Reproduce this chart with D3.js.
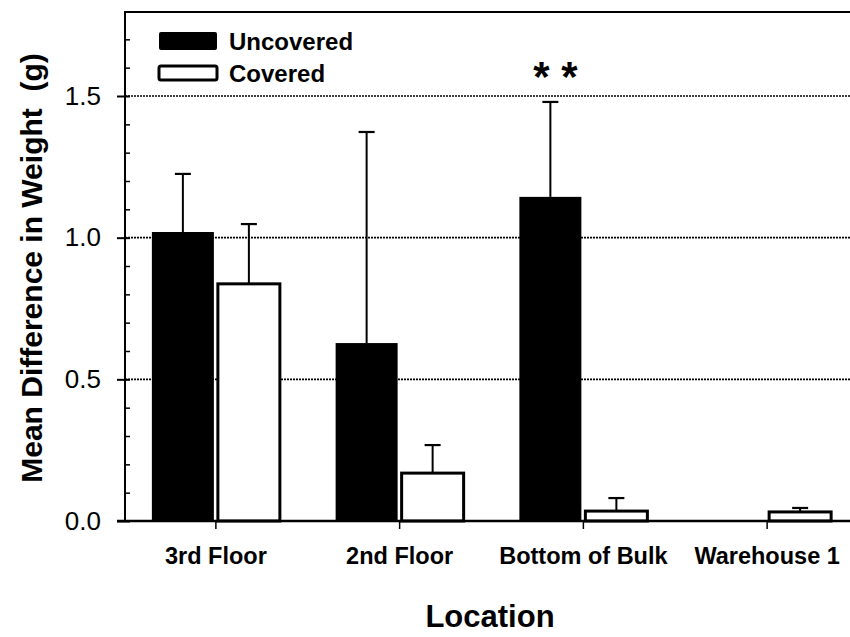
<!DOCTYPE html>
<html>
<head>
<meta charset="utf-8">
<script src="https://cdn.jsdelivr.net/npm/d3@7"></script>
<style>
  body { margin: 0; background: #fff; }
  text { font-family: "Liberation Sans", Arial, sans-serif; fill: #000; }
</style>
</head>
<body>
<div id="graph"></div>
<script>

// data
var locations = ["3rd Floor", "2nd Floor", "Bottom of Bulk", "Warehouse 1"];
var seriesNames = ["Uncovered", "Covered"];
var uncovered = [1.02, 0.628, 1.144, 0];
var uncoveredErr = [0.205, 0.745, 0.335, 0];
var covered = [0.837, 0.169, 0.035, 0.032];
var coveredErr = [0.211, 0.099, 0.046, 0.014];
var yTicks = [0.0, 0.5, 1.0, 1.5];
var gridValues = [0.5, 1.0, 1.5];

var width = 850, height = 637;

var svg = d3.select("#graph")
  .append("svg")
    .attr("width", width)
    .attr("height", height);

// scales
var x = d3.scaleBand()
  .domain(locations)
  .range([124, 859]);

var y = d3.scaleLinear()
  .domain([0, 1.8])
  .range([521, 11]);

var barW = 62, gap = 4;

// dotted grid lines
svg.append("g")
  .selectAll("line")
  .data(gridValues)
  .enter()
  .append("line")
    .attr("x1", 125)
    .attr("x2", width)
    .attr("y1", function(d) { return y(d); })
    .attr("y2", function(d) { return y(d); })
    .attr("stroke", "#000")
    .attr("stroke-width", 1.6)
    .attr("stroke-dasharray", "2,1");

// build rows: one per bar
var rows = [];
locations.forEach(function(loc, i) {
  rows.push({loc: loc, s: 0, v: uncovered[i], e: uncoveredErr[i]});
  rows.push({loc: loc, s: 1, v: covered[i], e: coveredErr[i]});
});

function barX(d) {
  var c = x(d.loc) + x.bandwidth() / 2;
  return d.s == 0 ? c - gap / 2 - barW : c + gap / 2;
}

// error bars (upper only)
var err = svg.append("g")
  .selectAll("g")
  .data(rows.filter(function(d) { return d.e > 0; }))
  .enter()
  .append("g");
err.append("line")
  .attr("x1", function(d) { return barX(d) + barW / 2; })
  .attr("x2", function(d) { return barX(d) + barW / 2; })
  .attr("y1", function(d) { return y(d.v); })
  .attr("y2", function(d) { return y(d.v + d.e); })
  .attr("stroke", "#000")
  .attr("stroke-width", 2);
err.append("line")
  .attr("x1", function(d) { return barX(d) + barW / 2 - 8; })
  .attr("x2", function(d) { return barX(d) + barW / 2 + 8; })
  .attr("y1", function(d) { return y(d.v + d.e); })
  .attr("y2", function(d) { return y(d.v + d.e); })
  .attr("stroke", "#000")
  .attr("stroke-width", 2.2);

// bars
svg.append("g")
  .selectAll("rect")
  .data(rows.filter(function(d) { return d.v > 0; }))
  .enter()
  .append("rect")
    .attr("x", barX)
    .attr("width", barW)
    .attr("y", function(d) { return y(d.v); })
    .attr("height", function(d) { return y(0) - y(d.v); })
    .attr("fill", function(d) { return d.s == 0 ? "#000" : "#fff"; })
    .attr("stroke", "#000")
    .attr("stroke-width", function(d) { return d.s == 0 ? 0 : 3; });

// frame: top line
svg.append("line")
  .attr("x1", 125).attr("x2", width)
  .attr("y1", 12).attr("y2", 12)
  .attr("stroke", "#000").attr("stroke-width", 2);

// y axis with major ticks outward and minor ticks inward
svg.append("g")
  .attr("transform", "translate(125,0)")
  .call(d3.axisLeft(y).tickValues(yTicks).tickFormat(d3.format(".1f")).tickSize(8).tickPadding(16))
  .call(function(g) {
    g.select(".domain").remove();
    g.selectAll(".tick line").attr("stroke-width", 2).attr("x2", -8).attr("x1", 5);
    g.selectAll(".tick text").style("font-size", "26px");
  });
svg.append("g")
  .attr("transform", "translate(125,0)")
  .call(d3.axisRight(y).tickValues(d3.range(0.1, 1.8, 0.1).filter(function(v) {
      return Math.abs(v * 2 - Math.round(v * 2)) > 0.01; }))
    .tickSize(5).tickFormat(""))
  .call(function(g) {
    g.select(".domain").remove();
    g.selectAll(".tick line").attr("stroke-width", 1.5);
  });
svg.append("line")
  .attr("x1", 125).attr("x2", 125)
  .attr("y1", 11).attr("y2", 522)
  .attr("stroke", "#000").attr("stroke-width", 2);

// x axis baseline and ticks at group centres
svg.append("g")
  .attr("transform", "translate(0,521)")
  .call(d3.axisBottom(x).tickSize(8).tickPadding(18))
  .call(function(g) {
    g.select(".domain").remove();
    g.selectAll(".tick line").attr("stroke-width", 1.5);
    g.selectAll(".tick text").style("font-size", "23.5px").style("font-weight", "bold");
  });
svg.append("line")
  .attr("x1", 117).attr("x2", width)
  .attr("y1", 521).attr("y2", 521)
  .attr("stroke", "#000").attr("stroke-width", 2.5);

// significance marker over Bottom of Bulk
svg.append("text")
  .attr("x", barX(rows[4]) + barW / 2 + 5)
  .attr("y", 91)
  .attr("text-anchor", "middle")
  .style("font-size", "42px")
  .style("font-weight", "bold")
  .text("* *");

// legend
var legend = svg.append("g")
  .selectAll("g")
  .data(seriesNames)
  .enter()
  .append("g")
    .attr("transform", function(d, i) { return "translate(0," + (i * 32) + ")"; });
legend.append("rect")
  .attr("x", 159).attr("y", function(d, i) { return i == 0 ? 32 : 34; })
  .attr("width", 58)
  .attr("height", function(d, i) { return i == 0 ? 18 : 14; })
  .attr("rx", 2)
  .attr("fill", function(d, i) { return i == 0 ? "#000" : "#fff"; })
  .attr("stroke", "#000")
  .attr("stroke-width", function(d, i) { return i == 0 ? 0 : 3; });
legend.append("text")
  .attr("x", 229).attr("y", 50)
  .style("font-size", "24px")
  .style("font-weight", "bold")
  .text(function(d) { return d; });

// axis titles
svg.append("text")
  .attr("x", 490).attr("y", 627)
  .attr("text-anchor", "middle")
  .style("font-size", "31px")
  .style("font-weight", "bold")
  .text("Location");

svg.append("text")
  .attr("transform", "translate(42,268) rotate(-90)")
  .attr("text-anchor", "middle")
  .style("font-size", "30px")
  .style("font-weight", "bold")
  .attr("xml:space", "preserve")
  .style("white-space", "pre")
  .text("Mean Difference in Weight  (g)");

</script>
</body>
</html>
